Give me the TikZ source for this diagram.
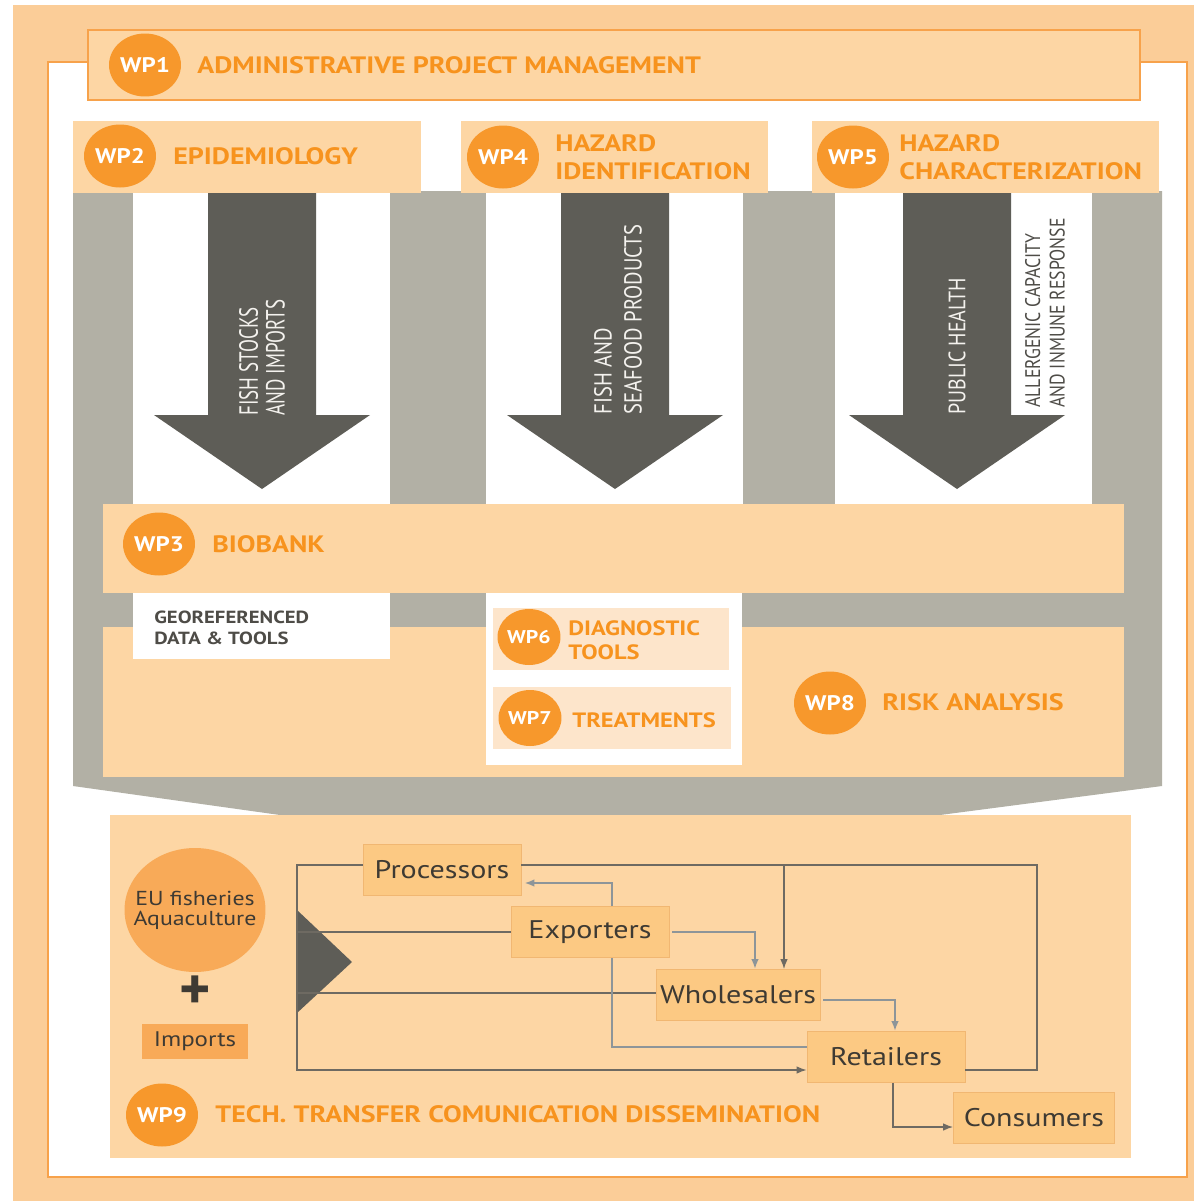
\documentclass[tikz,border=0pt]{standalone}
\usepackage{fontspec}
\setmainfont{PT Sans}
\newfontfamily\widefont[FakeStretch=1.18]{PT Sans}
\newfontfamily\narrowfont[FakeStretch=0.72]{PT Sans}
\newfontfamily\flowfont[FakeStretch=0.84]{PT Sans}
\usetikzlibrary{arrows.meta,shapes.geometric}

\definecolor{bgorange}{HTML}{FBCD98}
\definecolor{lineorange}{HTML}{F7A24B}
\definecolor{boxorange}{HTML}{FDD6A4}
\definecolor{wporange}{HTML}{F7982C}
\definecolor{textorange}{HTML}{F7931E}
\definecolor{greyband}{HTML}{B2B0A5}
\definecolor{darkarrow}{HTML}{5E5D57}
\definecolor{arrowtext}{HTML}{F4F2EE}
\definecolor{greytext}{HTML}{4E4C47}
\definecolor{paleorange}{HTML}{FDE5CB}
\definecolor{chainorange}{HTML}{FCC983}
\definecolor{chainline}{HTML}{F1B772}
\definecolor{euorange}{HTML}{F8AA58}
\definecolor{darktext}{HTML}{3E3A33}
\definecolor{connline}{HTML}{6E6A62}
\definecolor{exportline}{HTML}{8D9599}

\begin{document}
\begin{tikzpicture}[x=0.02cm,y=-0.02cm,
  wp/.style={ellipse,fill=wporange,minimum width=1.44cm,minimum height=1.26cm,inner sep=0pt,
    text=white,font=\widefont\bfseries\fontsize{12}{12}\selectfont},
  smallwp/.style={wp,minimum width=1.26cm,minimum height=1.12cm,font=\widefont\bfseries\fontsize{10.5}{10.5}\selectfont},
  wptitle/.style={anchor=west,inner sep=0pt,align=left,text=textorange,
    font=\widefont\bfseries\fontsize{13.5}{15.8}\selectfont},
  smalltitle/.style={wptitle,font=\widefont\bfseries\fontsize{11.8}{13.5}\selectfont},
  flowtext/.style={rotate=90,anchor=west,inner sep=0pt,align=left,text=arrowtext,
    font=\flowfont\fontsize{14}{16}\selectfont},
  chain/.style={draw=chainline,fill=chainorange,minimum width=3.16cm,minimum height=1.02cm,
    inner sep=0pt,text=darktext,font=\widefont\fontsize{14.5}{14.5}\selectfont},
  conn/.style={draw=connline,line width=0.8pt},
  lconn/.style={draw=exportline,line width=1.5pt},
  flowtip/.style={-{Latex[length=2mm,width=1.5mm]}}
]
% border
\fill[white] (0,0) rectangle (1194,1201);
\useasboundingbox (0,0) rectangle (1194,1201);
\fill[bgorange] (13,5) rectangle (1194,1201);
\filldraw[fill=white,draw=lineorange,line width=1.1pt] (48,62) rectangle (1187,1177);
\filldraw[fill=boxorange,draw=lineorange,line width=1.1pt] (88,30) rectangle (1140,100);

% grey band behind the work packages
\fill[greyband] (73,191) -- (1162,191) -- (1162,786) -- (940,815) -- (280,815) -- (73,786) -- cycle;

% columns
\foreach \l/\r in {133/390,486/743,835/1092} {
	\fill[white] (\l,193) rectangle (\r,504);
}
\foreach \c in {262,615,957} {
	\fill[darkarrow] (\c-54,193) -- (\c+54,193) -- (\c+54,415) -- (\c+108,415)
		-- (\c,489) -- (\c-108,415) -- (\c-54,415) -- cycle;
}
\foreach \l/\r in {73/421,461/768,812/1159} {
	\fill[boxorange] (\l,121) rectangle (\r,193);
}

% biobank and risk analysis
\fill[boxorange] (103,504) rectangle (1124,593);
\fill[boxorange] (103,627) rectangle (1124,777);
\fill[white] (133,593) rectangle (390,659);
\fill[white] (486,593) rectangle (742,765);
\fill[paleorange] (493,608) rectangle (729,670);
\fill[paleorange] (493,687) rectangle (731,749);

% dissemination
\fill[boxorange] (110,815) rectangle (1131,1158);

% work packages
\node[wp] (wp1) at (145,65) {WP1};
\node[wptitle] (wp1t) at (197,65) {ADMINISTRATIVE PROJECT MANAGEMENT};
\node[wp] (wp2) at (120,156) {WP2};
\node[wptitle] (wp2t) at (173,156) {EPIDEMIOLOGY};
\node[wp] (wp4) at (503,157) {WP4};
\node[wptitle] (wp4t) at (555,157) {HAZARD\\IDENTIFICATION};
\node[wp] (wp5) at (853,157) {WP5};
\node[wptitle] (wp5t) at (899,157) {HAZARD\\CHARACTERIZATION};
\node[wp] (wp3) at (159,544) {WP3};
\node[wptitle] (wp3t) at (212,544) {BIOBANK};
\node[smallwp] (wp6) at (529,637) {WP6};
\node[smalltitle] (wp6t) at (568,640) {DIAGNOSTIC\\TOOLS};
\node[smallwp] (wp7) at (530,718) {WP7};
\node[smalltitle] (wp7t) at (572,720) {TREATMENTS};
\node[wp] (wp8) at (830,703) {WP8};
\node[wptitle] (wp8t) at (882,702) {RISK ANALYSIS};
\node[wp] (wp9) at (162,1115) {WP9};
\node[wptitle] (wp9t) at (215,1114) {TECH. TRANSFER COMUNICATION DISSEMINATION};

% texts on the arrows
\node[flowtext,font=\narrowfont\fontsize{15}{15.3}\selectfont] (flow1) at (262,416) {FISH STOCKS\\AND IMPORTS};
\node[flowtext,font=\flowfont\fontsize{14}{17}\selectfont] (flow2) at (618,415) {FISH AND\\SEAFOOD PRODUCTS};
\node[flowtext,font=\flowfont\fontsize{13.5}{16}\selectfont] (flow3) at (957,415) {PUBLIC HEALTH};
\node[flowtext,text=greytext,font=\flowfont\fontsize{12}{14}\selectfont] (allerg) at (1045,408) {ALLERGENIC CAPACITY\\AND INMUNE RESPONSE};
\node[anchor=west,inner sep=0pt,align=left,text=greytext,font=\widefont\bfseries\fontsize{10}{12}\selectfont] (geo) at (154,628) {GEOREFERENCED\\DATA \& TOOLS};

% supply chain
\fill[euorange] (195,910) ellipse [x radius=1.41cm,y radius=1.24cm];
\node[inner sep=0pt,align=center,text=darktext,font=\widefont\fontsize{11.5}{11.4}\selectfont] (eu) at (195,910) {EU fisheries\\Aquaculture};
\node[text=darktext,font=\bfseries\fontsize{34}{34}\selectfont,inner sep=0pt] (plus) at (195,993) {+};
\node[fill=euorange,minimum width=2.14cm,minimum height=0.7cm,inner sep=0pt,
	text=darktext,font=\widefont\fontsize{12}{12}\selectfont] (imp) at (195,1041) {Imports};

\node[chain] (proc) at (442,870) {Processors};
\node[chain] (exp) at (590,932) {Exporters};
\node[chain,minimum width=3.28cm] (whole) at (738,995) {Wholesalers};
\node[chain] (ret) at (886,1057) {Retailers};
\node[chain,minimum width=3.22cm] (cons) at (1034,1118) {Consumers};

\fill[darkarrow] (297,910) -- (352,962) -- (297,1013) -- cycle;
\coordinate (src) at (297,962);
\coordinate (ne) at (1037,865);
\coordinate (nw) at (297,865);
\coordinate (sw) at (297,1070);

% connectors
\draw[conn] (exp.west) -- (exp.west -| src);
\draw[conn] ([yshift=0.04cm]whole.west) -- ([yshift=0.04cm]whole.west -| src);
\draw[conn] (ret.east |- sw) -| (ne) -- (proc.east |- ne);
\draw[conn,flowtip] (proc.west |- nw) -- (nw) -- (sw) -- (ret.west |- sw);
\draw[conn,flowtip] ([xshift=0.92cm]whole.north |- ne) -- ([xshift=0.92cm]whole.north);
\draw[lconn,flowtip] ([xshift=0.44cm]exp.north) |- ([yshift=-0.26cm,xshift=0.06cm]proc.east);
\draw[lconn,flowtip] ([xshift=0.06cm]exp.east) -| ([xshift=0.34cm]whole.north);
\draw[lconn] ([xshift=0.44cm]exp.south) |- ([yshift=0.2cm]ret.west);
\draw[lconn,flowtip] ([yshift=-0.1cm,xshift=0.06cm]whole.east) -| ([xshift=0.18cm]ret.north);
\draw[conn,flowtip] ([xshift=0.14cm]ret.south) |- ([yshift=-0.18cm]cons.west);

\end{tikzpicture}
\end{document}
